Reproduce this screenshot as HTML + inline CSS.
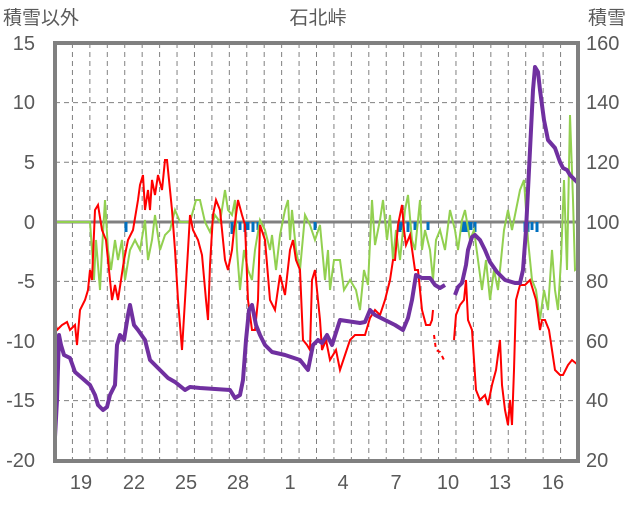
<!DOCTYPE html>
<html><head><meta charset="utf-8"><style>
body{margin:0;background:#fff}
svg text{font-family:"Liberation Sans","Noto Sans CJK JP",sans-serif;fill:#595959}
</style></head><body>
<svg width="636" height="501" viewBox="0 0 636 501" xmlns="http://www.w3.org/2000/svg">
<rect width="636" height="501" fill="#fff"/>
<g stroke="#808080" stroke-width="1" stroke-dasharray="5,4">
<line x1="55" x2="578" y1="102.6" y2="102.6"/><line x1="55" x2="578" y1="162.2" y2="162.2"/>
<line x1="55" x2="578" y1="281.4" y2="281.4"/><line x1="55" x2="578" y1="341" y2="341"/>
<line x1="55" x2="578" y1="400.6" y2="400.6"/>
</g>
<g id="v" stroke="#808080" stroke-width="1" stroke-dasharray="5,4"></g>
<line x1="55" x2="578" y1="222" y2="222" stroke="#808080" stroke-width="3"/>
<g stroke="#0070c0" stroke-width="3" fill="none">
<path d="M126 222v10M232 222v12M240 222v8M245 222v10M248 222v8M253 222v10M258 222v8M315 222v8M400 222v10M403 222v8M408 222v10M415 222v8M428 222v8M462 222v10M465 222v10M468 222v10M471 222v8M475 222v10M525 222v10M528 222v10M532 222v8M537 222v10"/>
</g>
<polyline fill="none" stroke="#92d050" stroke-width="2" points="54,222 90,222 92,250 94,280 96,240 100,290 102,250 105,200 108,250 111,270 115,240 118,260 122,240 125,280 130,250 135,240 140,250 145,220 148,260 152,240 155,215 160,250 165,235 170,230 175,210 180,222 185,222 190,222 196,200 200,200 205,222 210,232 215,215 220,222 225,190 228,210 232,215 235,200 237,250 240,290 244,250 248,270 252,280 255,250 260,220 265,230 270,250 272,235 276,270 280,235 285,210 288,200 290,240 292,210 296,250 300,270 305,215 310,225 315,240 320,225 325,280 328,250 330,290 334,260 340,260 344,290 350,280 356,290 360,310 364,270 368,285 372,200 375,245 380,220 383,200 387,240 390,215 393,260 396,230 400,260 405,210 408,195 412,240 415,250 420,200 422,250 425,230 430,250 433,280 436,240 440,230 445,250 450,210 455,230 458,250 462,220 465,210 470,240 474,230 478,260 482,290 486,260 490,300 494,270 498,290 504,230 508,210 512,230 516,210 520,190 524,180 528,240 532,280 536,290 540,320 544,290 548,310 552,250 555,290 558,310 561,260 564,180 567,270 570,115 573,200 575,270 578,268"/>
<polyline fill="none" stroke="#ff0000" stroke-width="2" points="54,318 57,330 62,325 67,322 70,330 75,325 77,345 80,310 85,300 88,290 90,270 92,280 95,210 98,205 102,230 106,240 108,260 112,300 115,285 118,300 124,260 128,240 133,230 138,200 140,185 143,175 145,210 148,190 150,210 152,180 155,195 158,175 162,190 165,160 167,160 168,170 172,210 175,250 178,300 182,350 185,300 188,250 190,215 193,230 198,240 202,255 206,300 208,320 210,265 213,215 216,200 220,210 225,260 228,270 232,250 234,230 238,200 242,215 245,225 248,300 252,330 255,330 258,300 260,225 265,240 270,300 275,310 280,275 285,295 290,250 293,240 296,260 300,270 303,340 307,345 310,350 312,280 315,270 318,300 320,320 322,350 326,340 330,360 336,350 340,370 345,355 350,340 355,335 360,335 365,335 370,318 375,310 380,315 385,300 390,280 393,260 395,260 398,225 400,215 402,205 404,230 406,245 410,235 415,270 418,270 422,310 426,325 430,325 432,320 433,310"/>
<polyline fill="none" stroke="#ff0000" stroke-width="2" stroke-dasharray="4,4" points="434,335 436,350 440,352 444,360"/>
<polyline fill="none" stroke="#ff0000" stroke-width="2" points="454,340 456,315 460,305 464,300 466,280 468,320 472,330 474,360 476,390 480,400 485,395 488,405 492,385 496,370 500,340 502,385 505,410 508,425 510,400 512,425 514,370 516,300 520,285 525,285 530,280 533,290 536,300 540,330 542,320 545,320 549,330 555,370 560,375 563,375 568,365 572,360 578,365"/>
<g fill="none" stroke="#7030a0" stroke-width="4" stroke-linejoin="round">
<polyline points="55,437 57,400 59,335 61,345 64,355 70,358 75,372 82,378 90,385 95,395 98,405 103,410 107,407 110,395 115,385 117,345 120,335 124,340 128,315 130,305 134,325 138,330 145,340 150,360 160,370 168,378 175,382 185,390 190,387 200,388 230,390 235,398 240,395 243,380 246,340 249,310 252,305 256,325 260,335 265,345 272,352 285,355 300,360 308,370 313,345 318,340 322,343 327,335 332,345 340,320 360,323 365,322 370,310 375,315 395,325 403,330 408,318 412,300 416,275 422,278 430,278 435,285 440,288 445,285"/>
<polyline points="455,295 458,287 462,283 466,265 468,250 472,237 475,235 480,240 485,250 490,262 497,272 505,280 515,283 520,283 523,270 526,230 530,150 533,90 535,67 538,72 540,90 544,120 548,140 555,148 560,162 563,168 567,170 570,175 578,183"/>
</g>
<rect x="55" y="43" width="523" height="418" fill="none" stroke="#808080" stroke-width="4"/>
<g font-size="20" text-anchor="end">
<text x="35" y="50">15</text><text x="35" y="109">10</text><text x="35" y="169">5</text><text x="35" y="229">0</text>
<text x="35" y="288">-5</text><text x="35" y="348">-10</text><text x="35" y="407">-15</text><text x="35" y="467">-20</text>
</g>
<g font-size="20">
<text x="586" y="50">160</text><text x="586" y="109">140</text><text x="586" y="169">120</text><text x="586" y="229">100</text>
<text x="586" y="288">80</text><text x="586" y="348">60</text><text x="586" y="407">40</text><text x="586" y="467">20</text>
</g>
<g font-size="20" text-anchor="middle">
<text x="81" y="489">19</text><text x="134" y="489">22</text><text x="186" y="489">25</text><text x="238" y="489">28</text>
<text x="290" y="489">1</text><text x="343" y="489">4</text><text x="396" y="489">7</text><text x="448" y="489">10</text>
<text x="500" y="489">13</text><text x="553" y="489">16</text>
</g>
<text x="3" y="24" font-size="19">積雪以外</text>
<text x="318" y="24" font-size="19" text-anchor="middle">石北峠</text>
<text x="588" y="24" font-size="19">積雪</text>
</svg>
<script>
var g=document.getElementById('v');
for(var i=1;i<30;i++){var x=55+i*523/30;var l=document.createElementNS('http://www.w3.org/2000/svg','line');
l.setAttribute('x1',x);l.setAttribute('x2',x);l.setAttribute('y1',43);l.setAttribute('y2',461);g.appendChild(l);}
</script>
</body></html>
